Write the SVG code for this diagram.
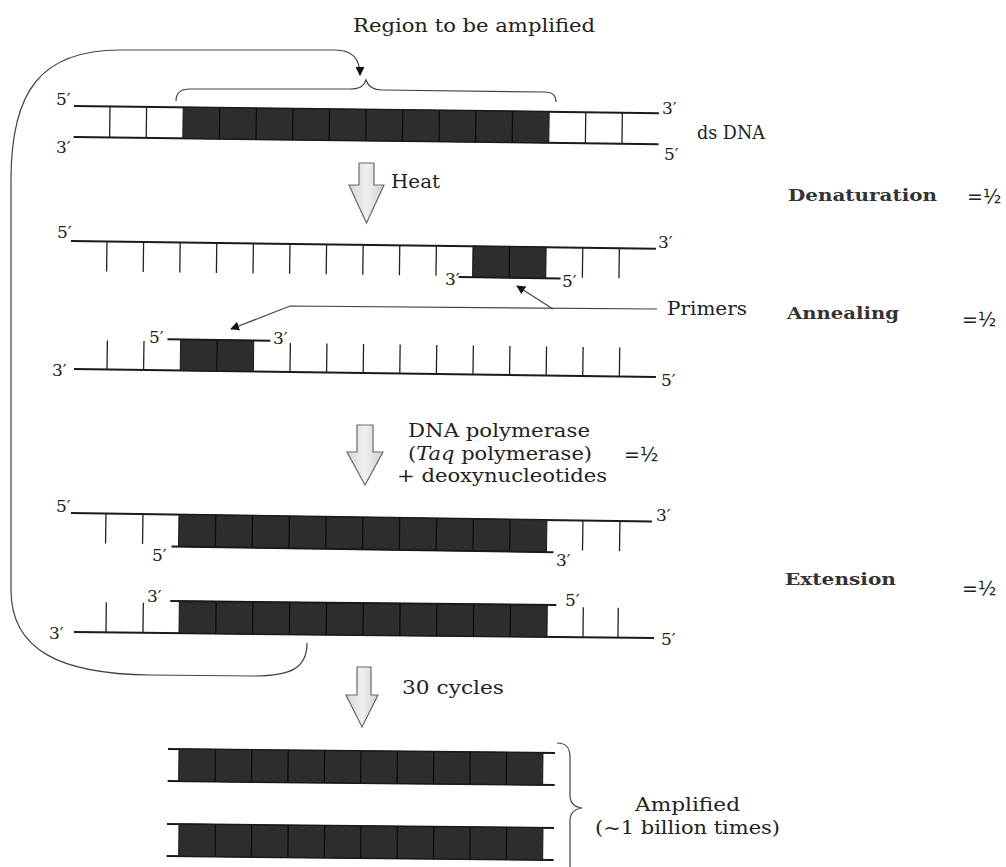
<svg xmlns="http://www.w3.org/2000/svg" width="1006" height="867" viewBox="0 0 1006 867">
<defs>
<style>
.t{font-family:"DejaVu Serif","Liberation Serif",serif;font-size:18px;fill:#222;}
.lbl{font-family:"DejaVu Serif","Liberation Serif",serif;font-size:17px;fill:#222;}
.b{font-family:"DejaVu Serif","Liberation Serif",serif;font-weight:bold;font-size:17px;fill:#333;}
.h{font-family:"DejaVu Sans","Noto Sans",sans-serif;font-size:19px;fill:#222;}
.s{stroke:#1a1a1a;stroke-width:2;fill:none;}
.v{stroke:#222;stroke-width:1.3;}
.dk{fill:#2d2d2d;stroke:#1a1a1a;stroke-width:1;}
.dv{stroke:#0a0a0a;stroke-width:1.2;}
.c{stroke:#444;stroke-width:1.2;fill:none;}
.blk{fill:url(#g);stroke:#6a6a6a;stroke-width:1.2;}
</style>
<linearGradient id="g" x1="0" y1="0" x2="1" y2="0">
<stop offset="0" stop-color="#d6d6d6"/><stop offset="0.5" stop-color="#f0f0f0"/><stop offset="1" stop-color="#cfcfcf"/>
</linearGradient>
<marker id="ah" viewBox="0 0 10 10" refX="9" refY="5" markerWidth="9" markerHeight="9" markerUnits="userSpaceOnUse" orient="auto">
<path d="M0,0 L10,5 L0,10 z" fill="#111"/>
</marker>
</defs>

<rect width="1006" height="867" fill="#fff"/>

<text class="t" x="353" y="32" textLength="242" lengthAdjust="spacingAndGlyphs">Region to be amplified</text>

<g id="connectors">
<path class="c" d="M307 643 C307 668 292 676 252 676 L150 675 C60 674 11 650 11 590 L11 180 C11 92 40 50 120 50 L335 50 C352 50 360 58 360 75" marker-end="url(#ah)"/>
<path class="c" d="M176 101 C176 93 180 89 190 89 L350 89 C360 89 364 86 366 80 C368 86 372 90 382 90 L545 92 C553 92 556 96 556 102"/>
<path class="c" d="M657 309 L290 306 L231 329" marker-end="url(#ah)"/>
<path class="c" d="M553 309 L517 286" marker-end="url(#ah)"/>
<path class="c" d="M557 743 C566 743 570 747 570 757 L570 795 C570 803 574 807 582 808 C574 809 570 813 570 821 L570 870"/>
</g>

<g id="row1" transform="translate(74,106) rotate(0.7)">
<line class="s" x1="0" y1="0" x2="585" y2="0"/>
<line class="s" x1="0" y1="31" x2="585" y2="31"/>
<rect class="dk" x="109.2" y="0" width="366" height="31"/>
<path class="dv" d="M145.8 0V31M182.4 0V31M219 0V31M255.6 0V31M292.2 0V31M328.8 0V31M365.4 0V31M402 0V31M438.6 0V31"/>
<path class="v" d="M36 0V31M72.6 0V31M511.8 0V31M548.4 0V31"/>
</g>
<g id="row1-labels">
<text class="lbl" x="56" y="105">5′</text>
<text class="lbl" x="56" y="153">3′</text>
<text class="lbl" x="662" y="114">3′</text>
<text class="lbl" x="664" y="160">5′</text>
<text class="t" x="697" y="139" textLength="68" lengthAdjust="spacingAndGlyphs">ds DNA</text>
</g>

<g id="heat-arrow">
<polygon class="blk" points="359,163 374,163 374,185 384,185 366.5,223 349,185 359,185"/>
<text class="t" x="391" y="188" textLength="49" lengthAdjust="spacingAndGlyphs">Heat</text>
</g>

<g id="row2" transform="translate(71,241) rotate(0.75)">
<line class="s" x1="0" y1="0" x2="585" y2="0"/>
<path class="v" d="M36 0V30M72.6 0V30M109.2 0V30M145.8 0V30M182.4 0V30M219 0V30M255.6 0V30M292.2 0V30M328.8 0V30M365.4 0V30M511.8 0V30M548.4 0V30"/>
<rect class="dk" x="402" y="0" width="73.2" height="31"/>
<path class="dv" d="M438.6 0V31"/>
<line class="s" x1="388" y1="31" x2="490" y2="31"/>
</g>
<g id="row2-labels">
<text class="lbl" x="57" y="238">5′</text>
<text class="lbl" x="658" y="248">3′</text>
<text class="lbl" x="445" y="285">3′</text>
<text class="lbl" x="562" y="287">5′</text>
</g>

<g id="primers">
<text class="t" x="667" y="315" textLength="80" lengthAdjust="spacingAndGlyphs">Primers</text>
</g>

<g id="row3" transform="translate(74,369) rotate(0.78)">
<line class="s" x1="0" y1="0" x2="582" y2="0"/>
<path class="v" d="M33 0V-29M69.6 0V-29M216 0V-29M252.6 0V-29M289.2 0V-29M325.8 0V-29M362.4 0V-29M399 0V-29M435.6 0V-29M472.2 0V-29M508.8 0V-29M545.4 0V-29"/>
<rect class="dk" x="106.2" y="-31" width="73.2" height="31"/>
<path class="dv" d="M142.8 -31V0"/>
<line class="s" x1="93" y1="-31" x2="196" y2="-31"/>
</g>
<g id="row3-labels">
<text class="lbl" x="149" y="343">5′</text>
<text class="lbl" x="273" y="344">3′</text>
<text class="lbl" x="52" y="376">3′</text>
<text class="lbl" x="661" y="386">5′</text>
</g>

<g id="polymerase-arrow">
<polygon class="blk" points="357,425 373,425 373,452 383,452 365,485 347,452 357,452"/>
<text class="t" x="408" y="437" textLength="182" lengthAdjust="spacingAndGlyphs">DNA polymerase</text>
<text class="t" x="408" y="460" textLength="184" lengthAdjust="spacingAndGlyphs">(<tspan font-style="italic">Taq</tspan> polymerase)</text>
<text class="h" x="624" y="461">=½</text>
<text class="t" x="397" y="482" textLength="210" lengthAdjust="spacingAndGlyphs">+ deoxynucleotides</text>
</g>

<g id="row4" transform="translate(71,513) rotate(0.85)">
<line class="s" x1="0" y1="0" x2="581" y2="0"/>
<path class="v" d="M35 0V30M72 0V30M512 0V30M549 0V30"/>
<rect class="dk" x="108" y="0" width="368" height="32"/>
<path class="dv" d="M144.8 0V32M181.6 0V32M218.4 0V32M255.2 0V32M292 0V32M328.8 0V32M365.6 0V32M402.4 0V32M439.2 0V32"/>
<line class="s" x1="101" y1="32" x2="483" y2="32"/>
</g>
<g id="row4-labels">
<text class="lbl" x="56" y="512">5′</text>
<text class="lbl" x="656" y="521">3′</text>
<text class="lbl" x="152" y="561">5′</text>
<text class="lbl" x="556" y="566">3′</text>
</g>

<g id="row5" transform="translate(74,632) rotate(0.6)">
<line class="s" x1="0" y1="0" x2="580" y2="0"/>
<path class="v" d="M32 0V-30M69 0V-30M509 0V-30M544 0V-30"/>
<rect class="dk" x="105" y="-32" width="368" height="32"/>
<path class="dv" d="M141.8 -32V0M178.6 -32V0M215.4 -32V0M252.2 -32V0M289 -32V0M325.8 -32V0M362.6 -32V0M399.4 -32V0M436.2 -32V0"/>
<line class="s" x1="96" y1="-32" x2="482" y2="-32"/>
</g>
<g id="row5-labels">
<text class="lbl" x="147" y="602">3′</text>
<text class="lbl" x="565" y="606">5′</text>
<text class="lbl" x="49" y="639">3′</text>
<text class="lbl" x="661" y="645">5′</text>
</g>

<g id="cycles-arrow">
<polygon class="blk" points="357,667 371,667 371,695 378,695 362,727 346,695 357,695"/>
<text class="t" x="402" y="694" textLength="102" lengthAdjust="spacingAndGlyphs">30 cycles</text>
</g>

<g id="amp1" transform="translate(168,749) rotate(0.6)">
<line class="s" x1="0" y1="0" x2="387" y2="0"/>
<line class="s" x1="0" y1="32" x2="387" y2="32"/>
<rect class="dk" x="11" y="0" width="364" height="32"/>
<path class="dv" d="M47.4 0V32M83.8 0V32M120.2 0V32M156.6 0V32M193 0V32M229.4 0V32M265.8 0V32M302.2 0V32M338.6 0V32"/>
</g>
<g id="amp2" transform="translate(167,824) rotate(0.6)">
<line class="s" x1="0" y1="0" x2="387" y2="0"/>
<line class="s" x1="0" y1="32" x2="387" y2="32"/>
<rect class="dk" x="12" y="0" width="364" height="32"/>
<path class="dv" d="M48.4 0V32M84.8 0V32M121.2 0V32M157.6 0V32M194 0V32M230.4 0V32M266.8 0V32M303.2 0V32M339.6 0V32"/>
</g>

<g id="amplified-label">
<text class="t" x="635" y="811" textLength="105" lengthAdjust="spacingAndGlyphs">Amplified</text>
<text class="t" x="595" y="834" textLength="185" lengthAdjust="spacingAndGlyphs">(~1 billion times)</text>
</g>

<g id="steps">
<text class="b" x="788" y="201" textLength="149" lengthAdjust="spacingAndGlyphs">Denaturation</text>
<text class="h" x="967" y="203">=½</text>
<text class="b" x="787" y="319" textLength="112" lengthAdjust="spacingAndGlyphs">Annealing</text>
<text class="h" x="962" y="326">=½</text>
<text class="b" x="785" y="585" textLength="111" lengthAdjust="spacingAndGlyphs">Extension</text>
<text class="h" x="962" y="595">=½</text>
</g>
</svg>
